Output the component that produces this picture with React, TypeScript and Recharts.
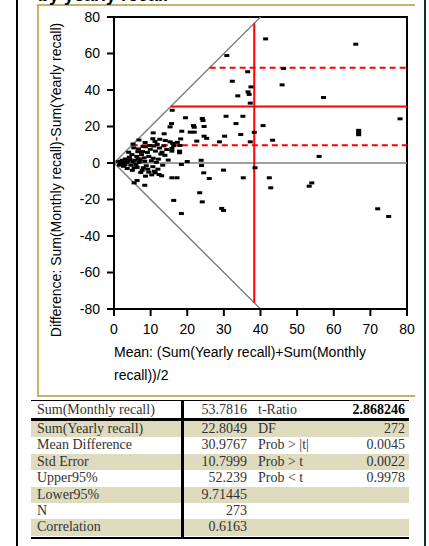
import React from 'react';
import { ScatterChart, Scatter, XAxis, YAxis, ReferenceLine, ReferenceArea } from 'recharts';

// Mean (x) vs Difference (y) pairs
const upperPoints: [number, number][] = [
  [41.4, 68], [66, 65.1], [30.8, 58.9], [46.3, 51.8], [36.5, 50], [32.3, 44.8], [37.4, 41.7],
  [45.9, 42.8], [33.8, 36.8], [36.6, 39], [36.9, 37.6], [37.2, 32.8], [57.2, 35.9],
];

const midPoints: [number, number][] = [
  [15.9, 28.9], [19.5, 24.8], [24.1, 24.4], [24.3, 23.3], [15.7, 21.6], [15.3, 19.8], [21.7, 20.5],
  [21.9, 19.6], [24.6, 20], [30.6, 25.6], [35.2, 25.6], [33.3, 21.6], [40.7, 20.5], [78.1, 24.2],
  [66.8, 15.5], [66.8, 16.7], [66.8, 17.9], [18.5, 17.4], [10.7, 16.5], [13.7, 16], [20.8, 16.9],
  [21.9, 16.9], [24.6, 14.7], [25.3, 13.5], [30.2, 14.7], [34.6, 15.6], [38.3, 16.8], [43.3, 12.5],
  [28.8, 11.6], [37.2, 11.6], [22.6, 12], [15.3, 11.6], [16, 10.8], [18.2, 13.2], [10.6, 13.3],
  [12.5, 13], [14, 12.3], [8.5, 11.2], [11.2, 11.8], [17.3, 11.3], [6.8, 12.6], [5.2, 10.4],
];

const clusterPoints: [number, number][] = [
  [1.2, 0.8], [1.8, -0.5], [2.2, 1.5], [2.6, -1.8], [3.1, 2.2], [3.4, 0.3], [3.6, -3], [4, 5.9],
  [4.4, 1.8], [4.6, -1.2], [4.9, 4.6], [5, -4], [5.4, 8.3], [5.5, -2.6], [5.7, 1.5], [6.2, 3.6],
  [6.3, -2.4], [6.5, 6.2], [6.7, 7.7], [6.9, 0.4], [7.1, 1.8], [7.3, -5.2], [7.5, 4.6], [7.7, -4],
  [7.9, 9.1], [8.2, 2.8], [8.4, 0.9], [8.6, 8.9], [8.8, -1.5], [9.1, 5.8], [9.5, 3.6], [9.5, -5],
  [9.9, 7.5], [10.2, 1.2], [10.3, -6.5], [10.7, 2.6], [10.9, 9.3], [11.3, 6.5], [11.6, 0.4],
  [12.1, 2.1], [12.4, 8.2], [12.8, 4.9], [13.1, 5.9], [13.3, -1.2], [13.9, 4.2], [14.4, 7.4],
  [14.8, 1.6], [15.8, 6.5], [16.3, 9.5], [2, 0.2], [3, -1], [4.2, 3.2], [5.2, 0.6], [6, -0.8],
  [8, -2.6], [9.2, -3.4], [10.6, -2], [12, -3.4], [1.5, -1.2], [2.8, 0.8], [3.8, 1], [6.6, 2.4],
  [7.8, 6.3], [9.8, 9.6], [11.8, 10.2], [13.6, 9.4], [17.9, 5.6], [18, 9.6], [15.8, 8], [17.9, 6.5],
  [20, 0.8], [23.8, 1.5], [56, 3.6],
];

const lowerPoints: [number, number][] = [
  [15.8, -8.1], [17.2, -8.1], [18.4, -0.8], [23.9, -1.4], [29.9, -3.9], [24.5, -5.4], [26, -8.5],
  [35.3, -8.1], [38.5, -2.6], [42.4, -8.1], [42.8, -13.6], [54, -10.9], [53.3, -12.7], [23.4, -16.3],
  [24.1, -21.3], [29.4, -24.9], [29.9, -26], [72, -25.1], [75, -29.3], [16.3, -20.5], [18.4, -27.7],
  [8.6, -7.2], [6.3, -9.6], [5.5, -10.9], [8.4, -12.2], [11.3, -5.4], [11, -4.5], [12.3, -6.3], [13, -7],
];

const meanDiff = 30.9767;
const upper95 = 52.239;
const lower95 = 9.71445;
const meanOfMeans = 38.29325;

const xTicks = [0, 10, 20, 30, 40, 50, 60, 70, 80];
const yTicks = [-80, -60, -40, -20, 0, 20, 40, 60, 80];

const leftLabels = ['Sum(Monthly recall)', 'Sum(Yearly recall)', 'Mean Difference', 'Std Error', 'Upper95%', 'Lower95%', 'N', 'Correlation'];
const leftValues = ['53.7816', '22.8049', '30.9767', '10.7999', '52.239', '9.71445', '273', '0.6163'];
const rightLabels = ['t-Ratio', 'DF', 'Prob > |t|', 'Prob > t', 'Prob < t', '', '', ''];
const rightValues = ['2.868246', '272', '0.0045', '0.0022', '0.9978', '', '', ''];

const points = [...upperPoints, ...midPoints, ...clusterPoints, ...lowerPoints].map(([x, y]) => ({ x, y }));

const Dot = (props: any) => {
  const { cx, cy } = props;
  return <rect x={cx - 2.5} y={cy - 1.5} width={5} height={3} fill="#000" />;
};

const tan = '#c9b06b';
const rowTan = '#dedbbf';
const sans = 'Arial, "Liberation Sans", sans-serif';
const serif = '"Liberation Serif", "Times New Roman", serif';

export default function App() {
  const rowTop = (i: number) => (i === 0 ? 401 : 421 + (i - 1) * 16.4);
  const rowH = (i: number) => (i === 0 ? 17 : 16.4);
  return (
    <div style={{ position: 'absolute', left: 0, top: 0, width: 429, height: 546, background: '#fff', overflow: 'hidden' }}>
      {/* outer window edges */}
      <div style={{ position: 'absolute', left: 16, top: 0, width: 2, height: 546, background: '#000' }} />
      <div style={{ position: 'absolute', left: 424, top: 0, width: 2, height: 546, background: '#10302a' }} />
      {/* tan frame */}
      <div style={{ position: 'absolute', left: 37, top: 4, width: 378, height: 2, background: tan }} />
      <div style={{ position: 'absolute', left: 37, top: 4, width: 2, height: 393, background: tan }} />
      <div style={{ position: 'absolute', left: 37, top: 395, width: 378, height: 2, background: tan }} />
      <div style={{ position: 'absolute', left: 38, top: -14, fontFamily: sans, fontWeight: 'bold', fontSize: 18, lineHeight: '18px', color: '#000' }}>
        by yearly recall
      </div>

      <div style={{ position: 'absolute', left: 0, top: 0 }}>
        <ScatterChart width={429} height={400} margin={{ top: 17, right: 22, left: 70, bottom: 61 }}>
          <XAxis
            type="number"
            dataKey="x"
            domain={[0, 80]}
            ticks={xTicks}
            allowDataOverflow
            height={30}
            tickSize={7}
            tickMargin={8}
            axisLine={{ stroke: '#000', strokeWidth: 2 }}
            tickLine={{ stroke: '#000', strokeWidth: 2 }}
            tick={{ fill: '#000', fontSize: 14, fontFamily: sans }}
          />
          <YAxis
            type="number"
            dataKey="y"
            domain={[-80, 80]}
            ticks={yTicks}
            allowDataOverflow
            width={44}
            tickSize={7}
            tickMargin={7}
            axisLine={{ stroke: '#000', strokeWidth: 2 }}
            tickLine={{ stroke: '#000', strokeWidth: 2 }}
            tick={{ fill: '#000', fontSize: 14, fontFamily: sans }}
          />
          <ReferenceArea x1={0} x2={80} y1={-80} y2={80} fill="none" stroke="#000" strokeWidth={2} fillOpacity={0} />
          <ReferenceLine segment={[{ x: 0, y: 0 }, { x: 40, y: 80 }]} stroke="#808080" strokeWidth={1.5} />
          <ReferenceLine segment={[{ x: 0, y: 0 }, { x: 40, y: -80 }]} stroke="#808080" strokeWidth={1.5} />
          <ReferenceLine segment={[{ x: 0, y: 0 }, { x: 80, y: 0 }]} stroke="#808080" strokeWidth={1.5} />
          <ReferenceLine segment={[{ x: meanDiff / 2, y: meanDiff }, { x: 80, y: meanDiff }]} stroke="#ff0000" strokeWidth={2} />
          <ReferenceLine segment={[{ x: upper95 / 2, y: upper95 }, { x: 80, y: upper95 }]} stroke="#ff0000" strokeWidth={2} strokeDasharray="6 4" />
          <ReferenceLine segment={[{ x: lower95 / 2, y: lower95 }, { x: 80, y: lower95 }]} stroke="#ff0000" strokeWidth={2} strokeDasharray="6 4" />
          <ReferenceLine segment={[{ x: meanOfMeans, y: -2 * meanOfMeans }, { x: meanOfMeans, y: 2 * meanOfMeans }]} stroke="#ff0000" strokeWidth={2} />
          <Scatter data={points} shape={<Dot />} isAnimationActive={false} />
        </ScatterChart>
      </div>

      <div
        style={{
          position: 'absolute', left: 56 - 180, top: 180 - 9, width: 360, height: 18, lineHeight: '18px',
          textAlign: 'center', transform: 'rotate(-90deg)', fontFamily: sans, fontSize: 14, color: '#000', whiteSpace: 'nowrap',
        }}
      >
        Difference: Sum(Monthly recall)-Sum(Yearly recall)
      </div>
      <div style={{ position: 'absolute', left: 114, top: 341, fontFamily: sans, fontSize: 14, lineHeight: '23px', color: '#000' }}>
        Mean: (Sum(Yearly recall)+Sum(Monthly
        <br />
        recall))/2
      </div>

      {/* statistics table */}
      {leftLabels.map((lab, i) => (
        <div
          key={lab}
          style={{
            position: 'absolute', left: 31, top: rowTop(i), width: 378, height: rowH(i),
            background: i > 0 && i % 2 === 1 ? rowTan : '#fff', fontFamily: serif, fontSize: 14,
            lineHeight: `${rowH(i)}px`, color: '#333', whiteSpace: 'nowrap',
          }}
        >
          <span style={{ position: 'absolute', left: 6 }}>{lab}</span>
          <span style={{ position: 'absolute', right: 378 - 216, textAlign: 'right' }}>{leftValues[i]}</span>
          <span style={{ position: 'absolute', left: 227 }}>{rightLabels[i]}</span>
          <span style={{ position: 'absolute', right: 4, fontWeight: i === 0 ? 'bold' : 'normal', color: i === 0 ? '#000' : '#333' }}>
            {rightValues[i]}
          </span>
        </div>
      ))}
      <div style={{ position: 'absolute', left: 31, top: 400, width: 378, height: 1, background: '#000' }} />
      <div style={{ position: 'absolute', left: 31, top: 418, width: 378, height: 3, background: '#000' }} />
      <div style={{ position: 'absolute', left: 31, top: 537, width: 378, height: 2, background: '#000' }} />
      <div style={{ position: 'absolute', left: 181, top: 400, width: 3, height: 139, background: '#000' }} />
    </div>
  );
}
